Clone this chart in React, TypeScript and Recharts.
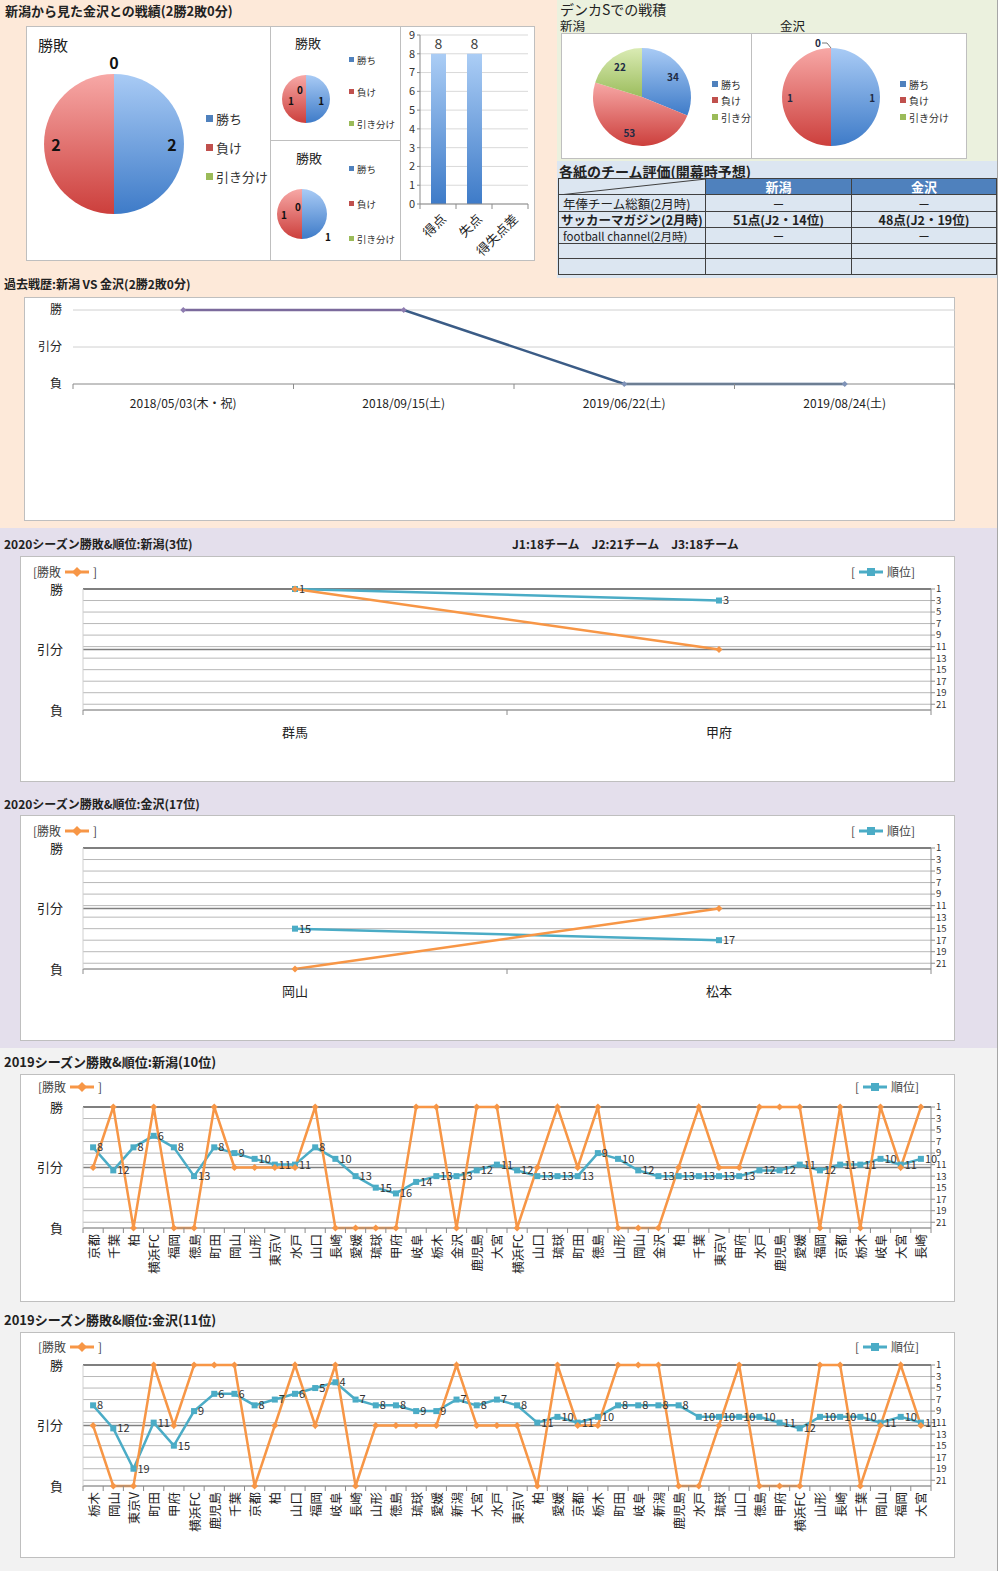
import React from 'react';
import {
  PieChart, Pie, Cell, BarChart, Bar, XAxis, YAxis, CartesianGrid, LabelList,
  LineChart, Line, ComposedChart, ReferenceLine,
} from 'recharts';

const FONT = '"Noto Sans CJK JP", "Noto Sans", sans-serif';

// ---------------- data ----------------
const outcomeNames = ['勝ち', '負け', '引き分け'];
const h2hTotal = [2, 2, 0];
const h2hHome = [1, 1, 0];
const h2hAway = [1, 1, 0];
const goalCategories = ['得点', '失点', '得失点差'];
const goalValues = [8, 8, 0];
const denkaNiigata = [34, 53, 22];
const denkaKanazawa = [1, 1, 0];

const tableTeams = ['新潟', '金沢'];
const tableSources = ['年俸チーム総額(2月時)', 'サッカーマガジン(2月時)', 'football channel(2月時)', '', ''];
const tableNiigata = ['－', '51点(J2・14位)', '－', '', ''];
const tableKanazawa = ['－', '48点(J2・19位)', '－', '', ''];

const pastDates = ['2018/05/03(木・祝)', '2018/09/15(土)', '2019/06/22(土)', '2019/08/24(土)'];
const pastResults = ['W', 'W', 'L', 'L'];

const resultLabels = ['負', '引分', '勝'];
const rankTicks = [1, 3, 5, 7, 9, 11, 13, 15, 17, 19, 21];

const teams2020Niigata = ['群馬', '甲府'];
const results2020Niigata = ['W', 'D'];
const ranks2020Niigata = [1, 3];

const teams2020Kanazawa = ['岡山', '松本'];
const results2020Kanazawa = ['L', 'D'];
const ranks2020Kanazawa = [15, 17];

const teams2019Niigata = ['京都', '千葉', '柏', '横浜FC', '福岡', '徳島', '町田', '岡山', '山形', '東京V', '水戸', '山口', '長崎', '愛媛', '琉球', '甲府', '岐阜', '栃木', '金沢', '鹿児島', '大宮',
  '横浜FC', '山口', '琉球', '町田', '徳島', '山形', '岡山', '金沢', '柏', '千葉', '東京V', '甲府', '水戸', '鹿児島', '愛媛', '福岡', '京都', '栃木', '岐阜', '大宮', '長崎'];
const results2019Niigata = ['D', 'W', 'L', 'W', 'L', 'L', 'W', 'D', 'D', 'D', 'D', 'W', 'L', 'L', 'L', 'L', 'W', 'W', 'L', 'W', 'W',
  'L', 'D', 'W', 'D', 'W', 'L', 'L', 'L', 'D', 'W', 'D', 'D', 'W', 'W', 'W', 'L', 'W', 'L', 'W', 'D', 'W'];
const ranks2019Niigata = [8, 12, 8, 6, 8, 13, 8, 9, 10, 11, 11, 8, 10, 13, 15, 16, 14, 13, 13, 12, 11,
  12, 13, 13, 13, 9, 10, 12, 13, 13, 13, 13, 13, 12, 12, 11, 12, 11, 11, 10, 11, 10];

const teams2019Kanazawa = ['栃木', '岡山', '東京V', '町田', '甲府', '横浜FC', '鹿児島', '千葉', '京都', '柏', '山口', '福岡', '岐阜', '長崎', '山形', '徳島', '琉球', '愛媛', '新潟', '大宮', '水戸',
  '東京V', '柏', '愛媛', '京都', '栃木', '町田', '岐阜', '新潟', '鹿児島', '水戸', '琉球', '山口', '徳島', '甲府', '横浜FC', '山形', '長崎', '千葉', '岡山', '福岡', '大宮'];
const results2019Kanazawa = ['D', 'L', 'L', 'W', 'D', 'W', 'W', 'W', 'L', 'D', 'W', 'D', 'W', 'L', 'D', 'D', 'D', 'D', 'W', 'D', 'D',
  'D', 'L', 'W', 'D', 'D', 'W', 'W', 'W', 'L', 'L', 'D', 'W', 'L', 'L', 'L', 'W', 'W', 'L', 'D', 'W', 'D'];
const ranks2019Kanazawa = [8, 12, 19, 11, 15, 9, 6, 6, 8, 7, 6, 5, 4, 7, 8, 8, 9, 9, 7, 8, 7,
  8, 11, 10, 11, 10, 8, 8, 8, 8, 10, 10, 10, 10, 11, 12, 10, 10, 10, 11, 10, 11];

// ---------------- styles / helpers ----------------
const RES_VAL: Record<string, number> = { W: 2, D: 1, L: 0 };
const outcomeGrad = [['#A9CBF5', '#3E7BC8'], ['#F7A8A6', '#CC3F3C'], ['#DAEBB4', '#9CBD5D']];
const outcomeSolid = ['#4F81BD', '#C0504D', '#9BBB59'];
const ORANGE = '#F79646';
const TEAL = '#4BACC6';
const RAD = Math.PI / 180;

const abs = (left: number, top: number, width?: number, height?: number): React.CSSProperties => ({
  position: 'absolute', left, top, width, height, boxSizing: 'border-box',
});

function Txt({ left, top, size = 12, bold = false, children, color = '#222', lh, style = {} }: any) {
  return (
    <div style={{ position: 'absolute', left, top, fontSize: size, fontWeight: bold ? 700 : 400, color, whiteSpace: 'nowrap', lineHeight: `${lh || Math.round(size * 1.3)}px`, ...style }}>
      {children}
    </div>
  );
}

function PieLegend({ left, centers, size, box }: any) {
  return (
    <>
      {outcomeNames.map((n, i) => (
        <div key={n} style={{ position: 'absolute', left, top: centers[i] - size * 0.65, height: size * 1.3, fontSize: size, lineHeight: `${size * 1.3}px`, whiteSpace: 'nowrap', display: 'flex', alignItems: 'center', color: '#333' }}>
          <span style={{ display: 'inline-block', width: box, height: box, background: outcomeSolid[i], marginRight: 3 }} />
          {n}
        </div>
      ))}
    </>
  );
}

function OutcomePie({ id, values, width, height, cx, cy, r, frac, zeroDist, fontSize, color, nudge, leader }: any) {
  const data = outcomeNames.map((n, i) => ({ name: n, value: values[i] }));
  const label = (p: any) => {
    const { midAngle, outerRadius, value, index } = p;
    const d = value === 0 ? outerRadius + zeroDist : outerRadius * frac;
    const nd = (nudge && nudge[index]) || [0, 0];
    const x = p.cx + d * Math.cos(-midAngle * RAD) + nd[0];
    const y = p.cy + d * Math.sin(-midAngle * RAD) + nd[1];
    return (
      <g key={`lab${index}`}>
        {leader && value === 0 && (
          <polyline points={`${x + 4},${y + 1} ${x + 9},${y + 1} ${p.cx},${p.cy - outerRadius}`} fill="none" stroke="#555" strokeWidth={0.8} />
        )}
        <text x={x} y={y} textAnchor="middle" dominantBaseline="central" fontSize={fontSize} fontWeight={700} fill={color}>{value}</text>
      </g>
    );
  };
  return (
    <PieChart width={width} height={height} margin={{ top: 0, right: 0, bottom: 0, left: 0 }}>
      <defs>
        {outcomeGrad.map((g, i) => (
          <linearGradient key={i} id={`${id}g${i}`} x1="0" y1="0" x2="0" y2="1">
            <stop offset="0" stopColor={g[0]} />
            <stop offset="1" stopColor={g[1]} />
          </linearGradient>
        ))}
      </defs>
      <Pie data={data} dataKey="value" nameKey="name" cx={cx} cy={cy} outerRadius={r} startAngle={90} endAngle={-270}
        stroke="none" isAnimationActive={false} label={label} labelLine={false}>
        {data.map((d, i) => <Cell key={i} fill={`url(#${id}g${i})`} />)}
      </Pie>
    </PieChart>
  );
}

const squareDot = (p: any) => <rect key={`s${p.index}`} x={p.cx - 3} y={p.cy - 3} width={6} height={6} fill={TEAL} />;
const diamondDot = (p: any) => (
  <path key={`d${p.index}`} d={`M${p.cx},${p.cy - 3.5}L${p.cx + 3.5},${p.cy}L${p.cx},${p.cy + 3.5}L${p.cx - 3.5},${p.cy}Z`} fill={ORANGE} />
);

function LegendMark({ color, square }: any) {
  return (
    <svg width={24} height={12} style={{ margin: '0 4px', verticalAlign: 'middle' }}>
      <line x1={0} y1={6} x2={24} y2={6} stroke={color} strokeWidth={3} />
      {square ? <rect x={8} y={2} width={8} height={8} fill={color} /> : <path d="M12,1L17,6L12,11L7,6Z" fill={color} />}
    </svg>
  );
}

function SeasonChart({ top, height, teams, results, ranks, vertical, legendY, legendLeft, legendRight }: any) {
  const n = teams.length;
  const data = teams.map((t: string, i: number) => ({ name: t, res: RES_VAL[results[i]], rank: ranks[i] }));
  const plotTop = 33;
  const plotH = 121;
  const xAxisH = height - plotTop - plotH;
  const bw = 848 / n;
  const tick = (p: any) => {
    const { x, y, payload, index } = p;
    return (
      <g key={`t${index}`}>
        <line x1={x - bw / 2} x2={x - bw / 2} y1={y} y2={y + 5} stroke="#8C8C8C" />
        {index === n - 1 && <line x1={x + bw / 2} x2={x + bw / 2} y1={y} y2={y + 5} stroke="#8C8C8C" />}
        {vertical ? (
          <text x={x} y={y + 6} transform={`rotate(-90 ${x} ${y + 6})`} textAnchor="end" dominantBaseline="central" fontSize={12.5} fill="#222">{payload.value}</text>
        ) : (
          <text x={x} y={y + 21} textAnchor="middle" dominantBaseline="central" fontSize={13} fill="#222">{payload.value}</text>
        )}
      </g>
    );
  };
  return (
    <div style={{ ...abs(20, top, 935, height), background: '#fff', border: '1px solid #BFBFBF' }}>
      <div style={{ position: 'absolute', left: -1, top: -1 }}>
        <ComposedChart width={935} height={height} data={data} margin={{ top: plotTop, right: 0, bottom: 0, left: 0 }}>
          <CartesianGrid yAxisId="rank" vertical={false} stroke="#B8B8B8" />
          <XAxis dataKey="name" height={xAxisH} interval={0} tickLine={false} tickSize={0} tickMargin={0}
            padding={{ left: bw / 2, right: bw / 2 }} axisLine={{ stroke: '#8C8C8C' }} tick={tick} />
          <YAxis yAxisId="res" domain={[0, 2]} ticks={[0, 1, 2]} tickFormatter={(v: number) => resultLabels[v]}
            width={63} axisLine={{ stroke: '#D0D0D0' }} tickLine={false} tickSize={0} tickMargin={20}
            tick={{ fontSize: 13, fill: '#222' }} />
          <YAxis yAxisId="rank" orientation="right" domain={[1, 22]} reversed ticks={rankTicks} interval={0} width={24}
            tick={{ fontSize: 9.5, fill: '#333' }} tickSize={4} tickMargin={1}
            axisLine={{ stroke: '#8C8C8C' }} tickLine={{ stroke: '#8C8C8C' }} />
          <ReferenceLine yAxisId="res" y={2} stroke="#7F7F7F" strokeWidth={2} />
          <ReferenceLine yAxisId="res" y={1} stroke="#7F7F7F" strokeWidth={1.5} />
          <Line yAxisId="rank" dataKey="rank" stroke={TEAL} strokeWidth={2.5} dot={squareDot} activeDot={false} isAnimationActive={false}>
            <LabelList dataKey="rank" position="right" offset={4} fontSize={11} fill="#333" />
          </Line>
          <Line yAxisId="res" dataKey="res" stroke={ORANGE} strokeWidth={2.5} dot={diamondDot} activeDot={false} isAnimationActive={false} />
        </ComposedChart>
      </div>
      <div style={{ position: 'absolute', left: legendLeft, top: legendY - 8, fontSize: 12, lineHeight: '16px', color: '#444', whiteSpace: 'nowrap', display: 'flex', alignItems: 'center' }}>
        [勝敗<LegendMark color={ORANGE} /> ]
      </div>
      <div style={{ position: 'absolute', left: legendRight, top: legendY - 8, fontSize: 12, lineHeight: '16px', color: '#444', whiteSpace: 'nowrap', display: 'flex', alignItems: 'center' }}>
        [ <LegendMark color={TEAL} square /> 順位]
      </div>
    </div>
  );
}

function PastChart() {
  const data = pastDates.map((d, i) => ({ date: d, res: RES_VAL[pastResults[i]] }));
  const n = data.length;
  const bw = 882 / n;
  const tick = (p: any) => {
    const { x, y, payload, index } = p;
    return (
      <g key={`pt${index}`}>
        <line x1={x - bw / 2} x2={x - bw / 2} y1={y} y2={y + 5} stroke="#8C8C8C" />
        {index === n - 1 && <line x1={x + bw / 2} x2={x + bw / 2} y1={y} y2={y + 5} stroke="#8C8C8C" />}
        <text x={x} y={y + 18} textAnchor="middle" dominantBaseline="central" fontSize={12} fill="#222">{payload.value}</text>
      </g>
    );
  };
  const dot = (p: any) => {
    const c = p.index < 2 ? '#8E7CB0' : '#7F93B8';
    return <path key={`pd${p.index}`} d={`M${p.cx},${p.cy - 3}L${p.cx + 3},${p.cy}L${p.cx},${p.cy + 3}L${p.cx - 3},${p.cy}Z`} fill={c} />;
  };
  return (
    <div style={{ ...abs(24, 297, 931, 224), background: '#fff', border: '1px solid #BFBFBF' }}>
      <div style={{ position: 'absolute', left: -1, top: -1 }}>
        <LineChart width={931} height={224} data={data} margin={{ top: 13, right: 0, bottom: 107, left: 0 }}>
          <defs>
            <linearGradient id="pastStroke" x1="0" y1="0" x2="1" y2="0">
              <stop offset="0" stopColor="#7B6A9C" />
              <stop offset="0.333" stopColor="#7B6A9C" />
              <stop offset="0.333" stopColor="#3B5C86" />
              <stop offset="1" stopColor="#3B5C86" />
            </linearGradient>
          </defs>
          <CartesianGrid vertical={false} stroke="#D0D0D0" />
          <XAxis dataKey="date" height={30} interval={0} tickLine={false} tickSize={0} tickMargin={0}
            padding={{ left: bw / 2, right: bw / 2 }} axisLine={{ stroke: '#A0A0A0' }} tick={tick} />
          <YAxis domain={[0, 2]} ticks={[0, 1, 2]} tickFormatter={(v: number) => resultLabels[v]} width={49}
            axisLine={false} tickLine={false} tickSize={0} tickMargin={11} tick={{ fontSize: 12, fill: '#222' }} />
          <Line dataKey="res" stroke="url(#pastStroke)" strokeWidth={2.5} dot={dot} activeDot={false} isAnimationActive={false} />
        </LineChart>
      </div>
    </div>
  );
}

function GoalBars() {
  const data = goalCategories.map((c, i) => ({ name: c, value: goalValues[i] }));
  const n = data.length;
  const bw = 108 / n;
  const tick = (p: any) => {
    const { x, y, payload, index } = p;
    return (
      <g key={`gt${index}`}>
        <line x1={x - bw / 2} x2={x - bw / 2} y1={y} y2={y + 5} stroke="#8C8C8C" />
        {index === n - 1 && <line x1={x + bw / 2} x2={x + bw / 2} y1={y} y2={y + 5} stroke="#8C8C8C" />}
        <text x={x + 5} y={y + 12} transform={`rotate(-45 ${x + 5} ${y + 12})`} textAnchor="end" dominantBaseline="central" fontSize={13} fill="#222">{payload.value}</text>
      </g>
    );
  };
  return (
    <BarChart width={135} height={235} data={data} margin={{ top: 9, right: 7, bottom: 0, left: 0 }}>
      <defs>
        <linearGradient id="barGrad" x1="0" y1="0" x2="0" y2="1">
          <stop offset="0" stopColor="#ABCDF5" />
          <stop offset="1" stopColor="#3E7BC8" />
        </linearGradient>
      </defs>
      <CartesianGrid vertical={false} stroke="#D9D9D9" />
      <XAxis dataKey="name" height={57} interval={0} tickLine={false} tickSize={0} tickMargin={0}
        axisLine={{ stroke: '#8C8C8C' }} tick={tick} />
      <YAxis domain={[0, 9]} ticks={[0, 1, 2, 3, 4, 5, 6, 7, 8, 9]} interval={0} width={20} tick={{ fontSize: 11, fill: '#333' }}
        tickSize={3} tickMargin={2} axisLine={{ stroke: '#8C8C8C' }} tickLine={{ stroke: '#8C8C8C' }} />
      <Bar dataKey="value" fill="url(#barGrad)" barSize={15} isAnimationActive={false}>
        <LabelList dataKey="value" position="top" offset={5} fontSize={14} fill="#404040" />
      </Bar>
    </BarChart>
  );
}

function EvalTable() {
  const colX = [558, 705, 851, 996];
  const rowY = [178, 194, 211, 227, 243, 258, 274];
  const cells: any[] = [];
  const cellBase = (x0: number, y0: number, x1: number, y1: number): React.CSSProperties => ({
    ...abs(x0, y0, x1 - x0 + 1, y1 - y0 + 1), border: '1px solid #404040', display: 'flex', alignItems: 'center', whiteSpace: 'nowrap', overflow: 'hidden',
  });
  cells.push(
    <div key="h0" style={{ ...cellBase(colX[0], rowY[0], colX[1], rowY[1]), background: '#DCE6F1' }}>
      <svg width={147} height={17} style={{ position: 'absolute', left: 0, top: 0 }}>
        <line x1={0} y1={16} x2={147} y2={0} stroke="#404040" strokeWidth={1} />
      </svg>
    </div>,
  );
  tableTeams.forEach((t, j) => {
    cells.push(
      <div key={`h${j + 1}`} style={{ ...cellBase(colX[j + 1], rowY[0], colX[j + 2], rowY[1]), background: '#4F81BD', color: '#fff', fontWeight: 700, fontSize: 13, justifyContent: 'center' }}>{t}</div>,
    );
  });
  tableSources.forEach((s, i) => {
    const bold = i === 1;
    const fs = i === 2 ? 11.5 : 12.5;
    cells.push(
      <div key={`s${i}`} style={{ ...cellBase(colX[0], rowY[i + 1], colX[1], rowY[i + 2]), background: '#DCE6F1', fontSize: fs, fontWeight: bold ? 700 : 400, paddingLeft: bold ? 2 : 4, color: '#222' }}>{s}</div>,
    );
    [tableNiigata[i], tableKanazawa[i]].forEach((v, j) => {
      cells.push(
        <div key={`v${i}-${j}`} style={{ ...cellBase(colX[j + 1], rowY[i + 1], colX[j + 2], rowY[i + 2]), background: '#DCE6F1', fontSize: 12.5, fontWeight: bold ? 700 : 400, justifyContent: 'center', color: '#222' }}>{v}</div>,
      );
    });
  });
  return <>{cells}</>;
}

export default function App() {
  return (
    <div style={{ position: 'absolute', left: 0, top: 0, width: 1000, height: 1571, overflow: 'hidden', background: '#fff', fontFamily: FONT, color: '#222' }}>
      {/* section backgrounds */}
      <div style={{ ...abs(0, 0, 997, 528), background: '#FDE9D9' }} />
      <div style={{ ...abs(557, 0, 440, 161), background: '#EBF1DE' }} />
      <div style={{ ...abs(557, 161, 440, 117), background: '#DCE6F1' }} />
      <div style={{ ...abs(0, 528, 997, 520), background: '#E4DFEC' }} />
      <div style={{ ...abs(0, 1048, 997, 523), background: '#F2F2F2' }} />
      <div style={{ ...abs(997, 0, 1, 1571), background: '#A6A6A6' }} />

      {/* ---------- top-left ---------- */}
      <Txt left={5} top={2} size={13} bold>新潟から見た金沢との戦績(2勝2敗0分)</Txt>

      <div style={{ ...abs(26, 26, 245, 235), background: '#fff', border: '1px solid #BFBFBF' }}>
        <Txt left={11} top={8} size={15}>勝敗</Txt>
        <div style={{ position: 'absolute', left: -1, top: -1 }}>
          <OutcomePie id="pA" values={h2hTotal} width={245} height={235} cx={88} cy={118} r={70} frac={0.83} zeroDist={12} fontSize={16} color="#111" />
        </div>
        <PieLegend left={179} centers={[92, 121, 150]} size={13} box={7} />
      </div>

      <div style={{ ...abs(270, 26, 131, 115), background: '#fff', border: '1px solid #BFBFBF' }}>
        <Txt left={24} top={7} size={13}>勝敗</Txt>
        <div style={{ position: 'absolute', left: -1, top: -1 }}>
          <OutcomePie id="pB" values={h2hHome} width={131} height={115} cx={36} cy={73} r={24} frac={0.63} zeroDist={-14} fontSize={10} color="#111" nudge={[[0, 1], [0, 1], [-6, 0]]} />
        </div>
        <PieLegend left={78} centers={[33, 65, 97]} size={9.5} box={5} />
      </div>

      <div style={{ ...abs(270, 140, 131, 121), background: '#fff', border: '1px solid #BFBFBF' }}>
        <Txt left={25} top={8} size={13}>勝敗</Txt>
        <div style={{ position: 'absolute', left: -1, top: -1 }}>
          <OutcomePie id="pC" values={h2hAway} width={131} height={121} cx={32} cy={74} r={25} frac={0.72} zeroDist={-17} fontSize={10} color="#111" nudge={[[8, 22], [0, 0], [-4, 0]]} />
        </div>
        <PieLegend left={78} centers={[28, 63, 98]} size={9.5} box={5} />
      </div>

      <div style={{ ...abs(400, 26, 135, 235), background: '#fff', border: '1px solid #BFBFBF' }}>
        <div style={{ position: 'absolute', left: -1, top: -1 }}>
          <GoalBars />
        </div>
      </div>

      {/* ---------- top-right ---------- */}
      <Txt left={560} top={1} size={14} lh={17}>デンカSでの戦積</Txt>
      <Txt left={560} top={18} size={12.5} lh={15}>新潟</Txt>
      <Txt left={780} top={18} size={12.5} lh={15}>金沢</Txt>

      <div style={{ ...abs(561, 33, 191, 126), background: '#fff', border: '1px solid #BFBFBF', overflow: 'hidden' }}>
        <div style={{ position: 'absolute', left: -1, top: -1 }}>
          <OutcomePie id="pD" values={denkaNiigata} width={191} height={126} cx={81} cy={64} r={49} frac={0.76} zeroDist={10} fontSize={10} color="#1F2A44" />
        </div>
        <PieLegend left={150} centers={[50, 66, 83]} size={10} box={6} />
      </div>

      <div style={{ ...abs(751, 33, 216, 126), background: '#fff', border: '1px solid #BFBFBF' }}>
        <div style={{ position: 'absolute', left: -1, top: -1 }}>
          <OutcomePie id="pE" values={denkaKanazawa} width={216} height={126} cx={80} cy={64} r={49} frac={0.84} zeroDist={5} fontSize={10} color="#1F2A44" nudge={[[0, 0], [0, 0], [-13, -1]]} leader />
        </div>
        <PieLegend left={148} centers={[50, 66, 83]} size={10} box={6} />
      </div>

      <Txt left={559} top={162} size={14} bold>各紙のチーム評価(開幕時予想)</Txt>
      <EvalTable />

      {/* ---------- past matches ---------- */}
      <Txt left={4} top={276} size={12} bold>過去戦歴:新潟 VS 金沢(2勝2敗0分)</Txt>
      <PastChart />

      {/* ---------- 2020 ---------- */}
      <Txt left={4} top={536} size={12} bold>2020シーズン勝敗&amp;順位:新潟(3位)</Txt>
      <Txt left={512} top={536} size={12} bold>J1:18チーム　J2:21チーム　J3:18チーム</Txt>
      <SeasonChart top={556} height={226} teams={teams2020Niigata} results={results2020Niigata} ranks={ranks2020Niigata}
        vertical={false} legendY={15} legendLeft={12} legendRight={830} />

      <Txt left={4} top={796} size={12} bold>2020シーズン勝敗&amp;順位:金沢(17位)</Txt>
      <SeasonChart top={815} height={226} teams={teams2020Kanazawa} results={results2020Kanazawa} ranks={ranks2020Kanazawa}
        vertical={false} legendY={15} legendLeft={12} legendRight={830} />

      {/* ---------- 2019 ---------- */}
      <Txt left={4} top={1053} size={13} bold>2019シーズン勝敗&amp;順位:新潟(10位)</Txt>
      <SeasonChart top={1074} height={228} teams={teams2019Niigata} results={results2019Niigata} ranks={ranks2019Niigata}
        vertical legendY={12} legendLeft={17} legendRight={834} />

      <Txt left={4} top={1311} size={13} bold>2019シーズン勝敗&amp;順位:金沢(11位)</Txt>
      <SeasonChart top={1332} height={226} teams={teams2019Kanazawa} results={results2019Kanazawa} ranks={ranks2019Kanazawa}
        vertical legendY={14} legendLeft={17} legendRight={834} />
    </div>
  );
}
